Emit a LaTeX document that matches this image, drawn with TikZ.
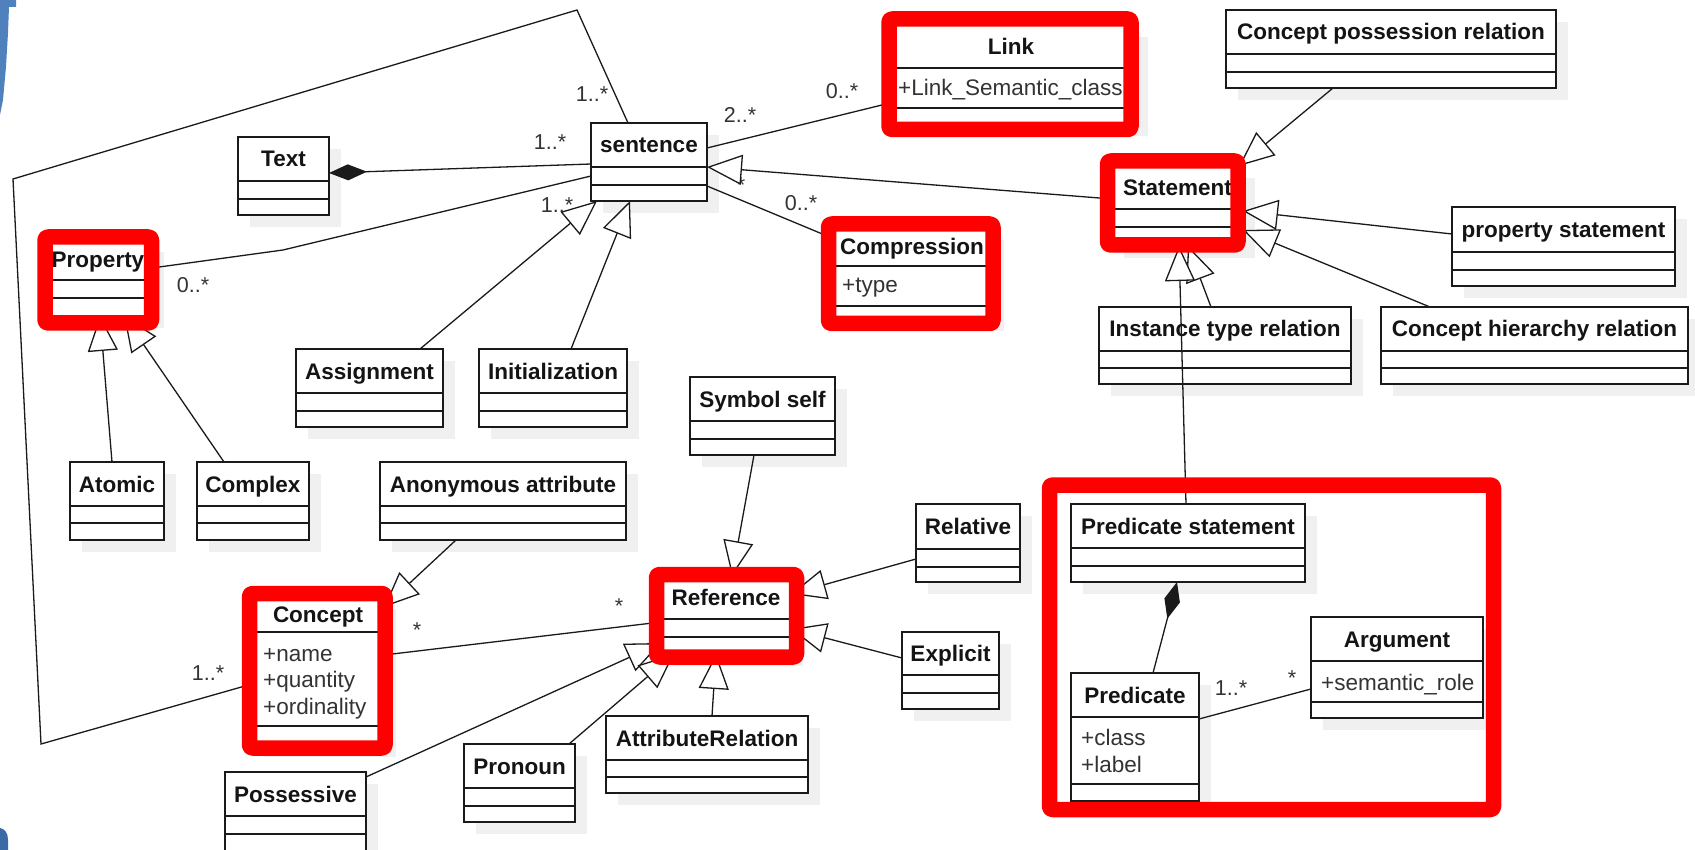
\documentclass[tikz,border=0pt]{standalone}
\usepackage{fontspec}
\setmainfont{Liberation Sans}
\usetikzlibrary{arrows.meta,calc}
\definecolor{umlline}{HTML}{1A1A1A}
\definecolor{shadowc}{HTML}{F0F0F0}
\definecolor{hlred}{HTML}{FF0000}
\definecolor{bluedeco}{HTML}{4F81BD}
\definecolor{bluedark}{HTML}{3A69A6}
\definecolor{labc}{HTML}{333333}
\tikzset{
  cls/.style={draw=umlline, line width=1.5pt, fill=white, inner sep=0pt, outer sep=0pt, rectangle},
  cline/.style={draw=umlline, line width=1.5pt},
  ttl/.style={font=\fontsize{22.5}{27}\selectfont\bfseries, text=black!92, inner sep=0pt, text height=16pt, text depth=0pt, anchor=center},
  attr/.style={font=\fontsize{22.5}{27}\selectfont, text=labc, inner sep=0pt, anchor=base west},
  mult/.style={font=\fontsize{21.5}{26}\selectfont, text=labc, inner sep=0pt, anchor=base},
  conn/.style={draw=umlline, line width=1.3pt},
  gen/.style={conn, -{Triangle[length=35pt, width=30pt, fill=white]}},
  comp/.style={conn, {Diamond[length=38pt, width=16pt, fill=umlline]}-},
  hl/.style={draw=hlred, line width=15.5pt, rounded corners=3pt, line join=round},
}
% name, x1, y1, x2, y2, line1, line2, title
\newcommand{\umlcls}[8]{%
  \fill[shadowc] ({#2+12},{#3+12}) rectangle ({#4+12},{#5+12});
  \node[cls, minimum width={#4-#2}, minimum height={#5-#3}] (#1) at ({(#2+#4)/2},{(#3+#5)/2}) {};
  \draw[cline] ($(#1.north west)+(0,{#6-#3})$) -- ($(#1.north east)+(0,{#6-#3})$);
  \draw[cline] ($(#1.north west)+(0,{#7-#3})$) -- ($(#1.north east)+(0,{#7-#3})$);
  \node[ttl] (#1-t) at ($(#1.north)+(0,{(#6-#3)/2})$) {#8};
}
\begin{document}
\begin{tikzpicture}[x=1pt,y=-1pt]
\clip (0,0) rectangle (1695,850);
\fill[white] (0,0) rectangle (1695,850);

% decorative blue corners
\fill[bluedeco] (0,0) -- (16,0) -- (16,7) -- (9,7) -- (8,33) -- (6,67) -- (3,100) -- (0,115) -- cycle;
\fill[bluedark] (0,828) .. controls (5,829) and (8,833) .. (8,840) -- (8,850) -- (0,850) -- cycle;

% classes
\umlcls{txt}{238}{137}{329}{215}{181}{199}{Text}
\umlcls{sentence}{591}{123}{707}{201}{167}{185}{sentence}
\umlcls{link}{886}{25}{1136}{124}{68}{108}{Link}
\umlcls{compression}{832}{228}{992}{319}{266}{306}{Compression}
\umlcls{cpr}{1226}{10}{1556}{88}{54}{72}{Concept possession relation}
\umlcls{statement}{1112}{166}{1243}{246}{209}{227}{Statement}
\umlcls{propstmt}{1452}{207}{1675}{286}{252}{270}{property statement}
\umlcls{itr}{1099}{307}{1351}{384}{351}{368}{Instance type relation}
\umlcls{chr}{1381}{307}{1688}{384}{351}{368}{Concept hierarchy relation}
\umlcls{property}{44}{240}{152}{316}{280}{298}{Property}
\umlcls{assignment}{296}{349}{443}{427}{393}{411}{Assignment}
\umlcls{initialization}{479}{349}{627}{427}{393}{411}{Initialization}
\umlcls{atomic}{70}{462}{164}{540}{506}{523}{Atomic}
\umlcls{complex}{197}{462}{309}{540}{506}{523}{Complex}
\umlcls{anon}{380}{462}{626}{540}{506}{523}{Anonymous attribute}
\umlcls{symself}{690}{377}{835}{455}{421}{439}{Symbol self}
\umlcls{relative}{916}{504}{1020}{582}{549}{567}{Relative}
\umlcls{reference}{661}{576}{791}{654}{619}{637}{Reference}
\umlcls{explicit}{902}{632}{999}{709}{675}{693}{Explicit}
\umlcls{concept}{252}{597}{384}{745}{632}{726}{Concept}
\umlcls{possessive}{225}{772}{366}{872}{816}{834}{Possessive}
\umlcls{pronoun}{464}{744}{575}{822}{788}{806}{Pronoun}
\umlcls{attrrel}{606}{716}{808}{793}{760}{777}{AttributeRelation}
\umlcls{predstmt}{1071}{504}{1305}{582}{548}{566}{Predicate statement}
\umlcls{predicate}{1071}{673}{1199}{801}{717}{784}{Predicate}
\umlcls{argument}{1311}{617}{1483}{718}{661}{702}{Argument}

% attributes
\node[attr] (link-a1) at (898,96) {+Link\_Semantic\_class};
\node[attr] (compression-a1) at (842,293) {+type};
\node[attr] (concept-a1) at (263,661) {+name};
\node[attr] (concept-a2) at (263,687.5) {+quantity};
\node[attr] (concept-a3) at (263,714) {+ordinality};
\node[attr] (predicate-a1) at (1081,745) {+class};
\node[attr] (predicate-a2) at (1081,772) {+label};
\node[attr] (argument-a1) at (1321,690) {+semantic\_role};

% partly hidden multiplicity under the triangle
\node[mult] (m-hidden) at (741,193) {*};

% associations
\draw[comp] ($(txt.north east)+(0,36)$) -- ($(sentence.north west)+(0,41)$);
\coordinate (bendP) at (283,250);
\draw[conn] ($(property.north east)+(0,28)$) -- (bendP) -- ($(sentence.north west)+(0,53)$);
\coordinate (loopA) at (41,744);
\coordinate (loopB) at (13,179);
\coordinate (loopC) at (577,10);
\draw[conn] ($(concept.north west)+(0,87)$) -- (loopA) -- (loopB) -- (loopC) -- ($(sentence.north west)+(37,0)$);
\draw[conn] ($(sentence.north east)+(0,25)$) -- ($(link.north west)+(0,79)$);
\draw[conn] ($(sentence.north east)+(0,63)$) -- ($(compression.north west)+(0,10)$);
\draw[conn] ($(concept.north east)+(0,58)$) -- ($(reference.north west)+(0,46)$);
\draw[conn] ($(predicate.north east)+(0,46)$) -- ($(argument.north west)+(0,72)$);
\draw[comp] ($(predstmt.south west)+(106,0)$) -- ($(predicate.north west)+(82,0)$);

% generalizations
\draw[gen] ($(statement.north west)+(0,33)$) -- ($(sentence.north east)+(0,44)$);
\draw[gen] ($(assignment.north west)+(124,0)$) -- ($(sentence.south west)+(6,0)$);
\draw[gen] ($(initialization.north west)+(92,0)$) -- ($(sentence.south west)+(39,0)$);
\draw[gen] ($(atomic.north west)+(42,0)$) -- ($(property.south west)+(56,0)$);
\draw[gen] ($(complex.north west)+(27,0)$) -- ($(property.south west)+(80,0)$);
\draw[gen] ($(cpr.south west)+(107,0)$) -- ($(statement.north east)+(-4,0)$);
\draw[gen] ($(propstmt.north west)+(0,27)$) -- ($(statement.north east)+(0,45)$);
\draw[gen] ($(chr.north west)+(49,0)$) -- ($(statement.north east)+(0,64)$);
\draw[gen] ($(itr.north west)+(112,0)$) -- ($(statement.south west)+(76,0)$);
\draw[gen] ($(predstmt.north west)+(115,0)$) -- ($(statement.south west)+(67,0)$);
\draw[gen] ($(anon.south west)+(76,0)$) -- ($(concept.north east)+(0,10)$);
\draw[gen] ($(symself.south west)+(64,0)$) -- ($(reference.north west)+(71,0)$);
\draw[gen] ($(relative.north west)+(0,55)$) -- ($(reference.north east)+(0,18)$);
\draw[gen] ($(explicit.north west)+(0,26)$) -- ($(reference.north east)+(0,53)$);
\draw[gen] ($(attrrel.north west)+(106,0)$) -- ($(reference.south west)+(55,0)$);
\draw[gen] ($(possessive.north east)+(0,5)$) -- ($(reference.north west)+(0,67)$);
\draw[gen] ($(pronoun.north west)+(105,0)$) -- ($(reference.south west)+(13,0)$);

% multiplicities
\node[mult] (m1) at (592,102) {1..*};
\node[mult] (m2) at (550,150) {1..*};
\node[mult] (m3) at (557,213) {1..*};
\node[mult] (m4) at (740,123) {2..*};
\node[mult] (m5) at (842,99) {0..*};
\node[mult] (m6) at (801,210.5) {0..*};
\node[mult] (m7) at (193,292.5) {0..*};
\node[mult] (m8) at (417,637) {*};
\node[mult] (m9) at (619,613) {*};
\node[mult] (m10) at (208,680) {1..*};
\node[mult] (m11) at (1231,695) {1..*};
\node[mult] (m12) at (1292,685) {*};

% red highlight frames
\draw[hl] (889,19) rectangle (1131,129.5);
\draw[hl] (45,237) rectangle (151.5,323);
\draw[hl] (828.5,224) rectangle (993,323.5);
\draw[hl] (1107.5,161) rectangle (1238,245);
\draw[hl] (249.5,593.5) rectangle (385,748);
\draw[hl] (656.5,574.5) rectangle (796.5,657);
\draw[hl] (1049.5,485) rectangle (1493.5,809.5);
\end{tikzpicture}
\end{document}
